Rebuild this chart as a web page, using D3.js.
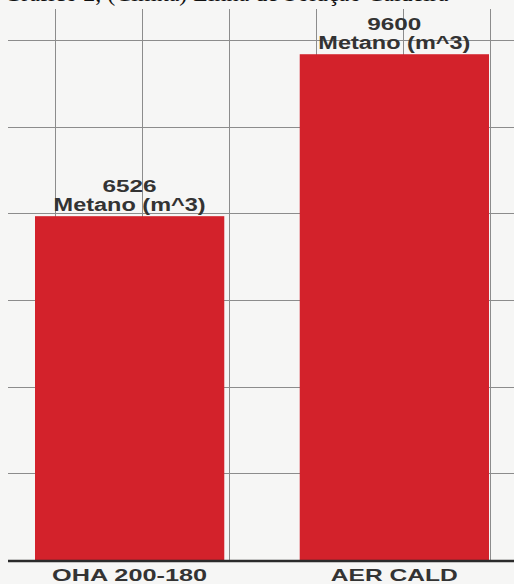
<!DOCTYPE html>
<html>
<head>
<meta charset="utf-8">
<script src="https://cdn.jsdelivr.net/npm/d3@7"></script>
<style>
  html, body { margin: 0; padding: 0; background: #f6f6f5; }
  svg { display: block; }
</style>
</head>
<body>
<svg id="chart" width="514" height="584"></svg>
<script>
// data
var categories = ["OHA 200-180", "AER CALD"];
var values = [6526, 9600];
var seriesName = "Metano (m^3)";
var gridValues = [1645, 3290, 4935, 6580, 8225, 9870];
var vGridValues = [0, 1, 2, 3, 4, 5];

var svg = d3.select("#chart"),
  width = +svg.attr("width"),
  height = +svg.attr("height");

var baseY = 560, topY = 40;

var y = d3.scaleLinear().domain([0, 9870]).range([baseY, topY]);
var x = d3.scaleBand().domain(categories).range([35, 489]).paddingInner(0.285).paddingOuter(0);
var xg = d3.scaleLinear().domain([0, 5]).range([55, 490]);

// scanned paper background
svg.append("rect").attr("width", width).attr("height", height).attr("fill", "#f6f6f5");

// caption line above the chart, cut by the top edge (only its lower edge shows)
svg.append("text")
  .attr("x", 4).attr("y", 1)
  .attr("font-family", "Liberation Serif, serif")
  .attr("font-size", 24)
  .attr("fill", "#111")
  .text("Gráfico 2, (Cimka) Linha de Solução Caldeira");

// grid
var grid = svg.append("g").attr("stroke", "#8c8c8c").attr("stroke-width", 1);
grid.selectAll("line.h")
  .data(gridValues)
  .enter().append("line")
  .attr("class", "h")
  .attr("x1", 8).attr("x2", width)
  .attr("y1", function (d) { return Math.round(y(d)) + 0.5; })
  .attr("y2", function (d) { return Math.round(y(d)) + 0.5; });

grid.selectAll("line.v")
  .data(vGridValues)
  .enter().append("line")
  .attr("class", "v")
  .attr("y1", 9).attr("y2", baseY)
  .attr("x1", function (d) { return Math.round(xg(d)) + 0.5; })
  .attr("x2", function (d) { return Math.round(xg(d)) + 0.5; });

// bars
svg.append("g")
  .selectAll("rect")
  .data(values)
  .enter().append("rect")
  .attr("x", function (d, i) { return x(categories[i]); })
  .attr("width", x.bandwidth())
  .attr("y", function (d) { return y(d); })
  .attr("height", function (d) { return baseY - y(d); })
  .attr("fill", "#d3222b");

// value labels
var labels = svg.append("g")
  .attr("font-family", "Liberation Sans, Arial, sans-serif")
  .attr("font-weight", "bold")
  .attr("fill", "#333")
  .attr("text-anchor", "middle");

labels.selectAll("text.val")
  .data(values)
  .enter().append("text")
  .attr("class", "val")
  .attr("x", function (d, i) { return x(categories[i]) + x.bandwidth() / 2; })
  .attr("y", function (d) { return y(d) - 24; })
  .attr("font-size", 16)
  .attr("textLength", 54)
  .attr("lengthAdjust", "spacingAndGlyphs")
  .text(function (d) { return d; });

labels.selectAll("text.name")
  .data(values)
  .enter().append("text")
  .attr("class", "name")
  .attr("x", function (d, i) { return x(categories[i]) + x.bandwidth() / 2; })
  .attr("y", function (d) { return y(d) - 5; })
  .attr("font-size", 18)
  .attr("textLength", 152)
  .attr("lengthAdjust", "spacingAndGlyphs")
  .text(seriesName);

// baseline
svg.append("line")
  .attr("x1", 8).attr("x2", width)
  .attr("y1", baseY + 1).attr("y2", baseY + 1)
  .attr("stroke", "#2b2b2b")
  .attr("stroke-width", 2.5);

// category labels
svg.append("g")
  .selectAll("text")
  .data(categories)
  .enter().append("text")
  .attr("x", function (d) { return x(d) + x.bandwidth() / 2; })
  .attr("y", 581)
  .attr("text-anchor", "middle")
  .attr("font-family", "Liberation Sans, Arial, sans-serif")
  .attr("font-weight", "bold")
  .attr("font-size", 17)
  .attr("fill", "#333")
  .attr("textLength", function (d, i) { return i === 0 ? 155 : 127; })
  .attr("lengthAdjust", "spacingAndGlyphs")
  .text(function (d) { return d; });
</script>
</body>
</html>
